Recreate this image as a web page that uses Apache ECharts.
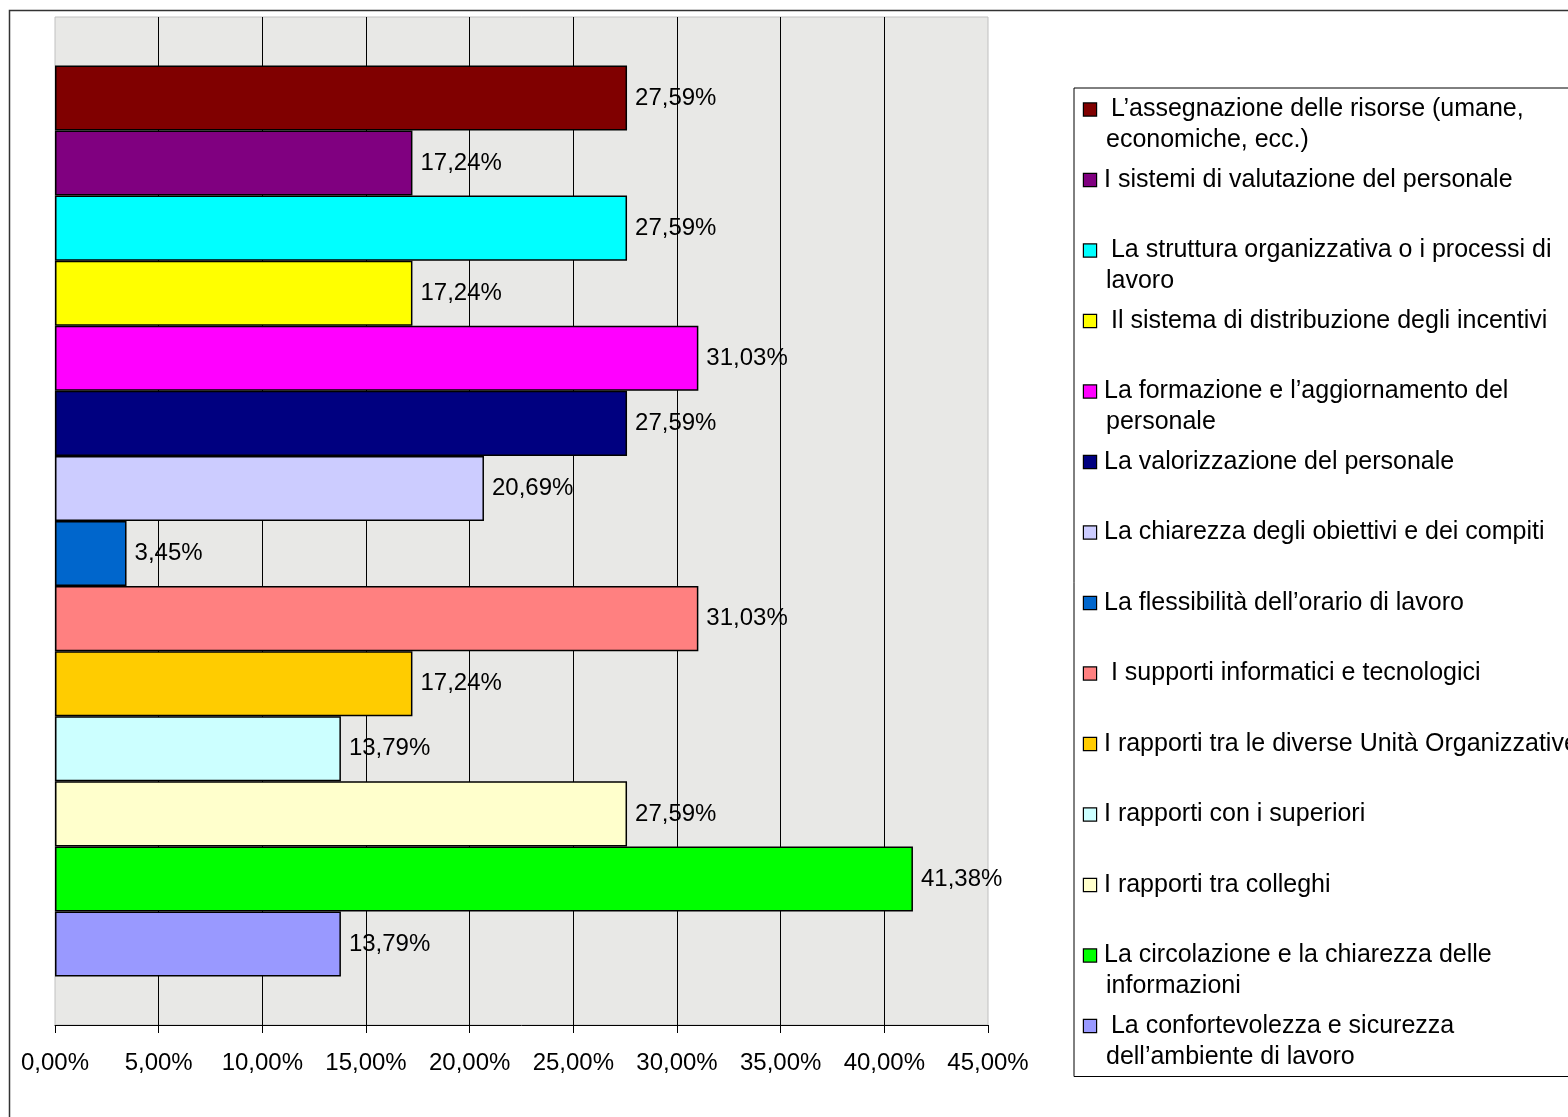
<!DOCTYPE html>
<html>
<head>
<meta charset="utf-8">
<script src="https://cdn.jsdelivr.net/npm/echarts@6/dist/echarts.min.js"></script>
<style>
  html, body { margin: 0; padding: 0; background: #fff; }
  #chart { width: 1568px; height: 1117px; }
</style>
</head>
<body>
<div id="chart"></div>
<script>
// ---- Data ----
const categories = [
  " L\u2019assegnazione delle risorse (umane,\neconomiche, ecc.)",
  "I sistemi di valutazione del personale",
  " La struttura organizzativa o i processi di\nlavoro",
  " Il sistema di distribuzione degli incentivi",
  "La formazione e l\u2019aggiornamento del\npersonale",
  "La valorizzazione del personale",
  "La chiarezza degli obiettivi e dei compiti",
  "La flessibilit\u00e0 dell\u2019orario di lavoro",
  " I supporti informatici e tecnologici",
  "I rapporti tra le diverse Unit\u00e0 Organizzative",
  "I rapporti con i superiori",
  "I rapporti tra colleghi",
  "La circolazione e la chiarezza delle\ninformazioni",
  " La confortevolezza e sicurezza\ndell\u2019ambiente di lavoro"
];
const values = [27.59, 17.24, 27.59, 17.24, 31.03, 27.59, 20.69, 3.45, 31.03, 17.24, 13.79, 27.59, 41.38, 13.79];
const colors = ["#800000", "#800080", "#00FFFF", "#FFFF00", "#FF00FF", "#000080", "#CCCCFF",
                "#0066CC", "#FF8080", "#FFCC00", "#CCFFFF", "#FFFFCC", "#00FF00", "#9999FF"];
const axisMin = 0, axisMax = 45, axisStep = 5;

// ---- Helpers ----
const FONT = "'Liberation Sans', Arial, sans-serif";
function pct(v) { return v.toFixed(2).replace('.', ',') + '%'; }

const rich = {
  t: { fontSize: 25, fontFamily: FONT, color: '#000', lineHeight: 31 },
  g: { width: 8, height: 12, lineHeight: 31 },
  ind: { width: 22, height: 12, lineHeight: 31 }
};
categories.forEach((c, i) => {
  rich['s' + i] = { width: 12, height: 12, backgroundColor: colors[i], borderColor: '#000', borderWidth: 1.2, lineHeight: 31 };
});

const series = categories.map((name, i) => ({
  type: 'bar',
  name: name,
  data: [values[i]],
  barGap: '0%',
  barCategoryGap: '9.6%',
  itemStyle: { color: colors[i], borderColor: '#000', borderWidth: 1.5 },
  label: {
    show: true, position: 'right', distance: 8,
    fontSize: 24, fontFamily: FONT, color: '#000',
    formatter: p => pct(p.value)
  },
  emphasis: { disabled: true }
}));

const chart = echarts.init(document.getElementById('chart'), null, { renderer: 'canvas' });
chart.setOption({
  animation: false,
  backgroundColor: '#fff',
  grid: {
    left: 55, right: 580, top: 17, bottom: 92,
    show: true, backgroundColor: '#e8e8e6', borderColor: '#c0c0c0', borderWidth: 1
  },
  xAxis: {
    type: 'value', min: axisMin, max: axisMax, interval: axisStep,
    axisLine: { show: true, lineStyle: { color: '#000', width: 1 } },
    axisTick: { show: true, length: 8, lineStyle: { color: '#000', width: 1 } },
    axisLabel: { margin: 26, fontSize: 24, fontFamily: FONT, color: '#000', formatter: v => pct(v) },
    splitLine: { show: true, showMinLine: false, showMaxLine: false, lineStyle: { color: '#000', width: 1 } }
  },
  yAxis: {
    type: 'category', data: [''], show: false
  },
  legend: {
    orient: 'vertical',
    left: 1074, top: 88,
    padding: [6, 10, 4, 5],
    itemGap: 8.5,
    itemWidth: 0, itemHeight: 0,
    icon: 'none',
    borderColor: '#000', borderWidth: 1,
    backgroundColor: '#fff',
    data: categories,
    textStyle: { fontSize: 25, fontFamily: FONT, color: '#000', lineHeight: 31, rich: rich },
    formatter: function (name) {
      const i = categories.indexOf(name);
      const parts = name.split('\n');
      const l2 = parts[1] !== undefined ? parts[1] : '\u00a0';
      return '{s' + i + '|}{g|}{t|' + parts[0] + '}\n{ind|}{t|' + l2 + '}';
    }
  },
  graphic: [{
    type: 'rect', silent: true, z: -10,
    shape: { x: 9.5, y: 10.5, width: 1700, height: 1300 },
    style: { fill: 'transparent', stroke: '#333', lineWidth: 1.5 }
  }],
  series: series
});
</script>
</body>
</html>
